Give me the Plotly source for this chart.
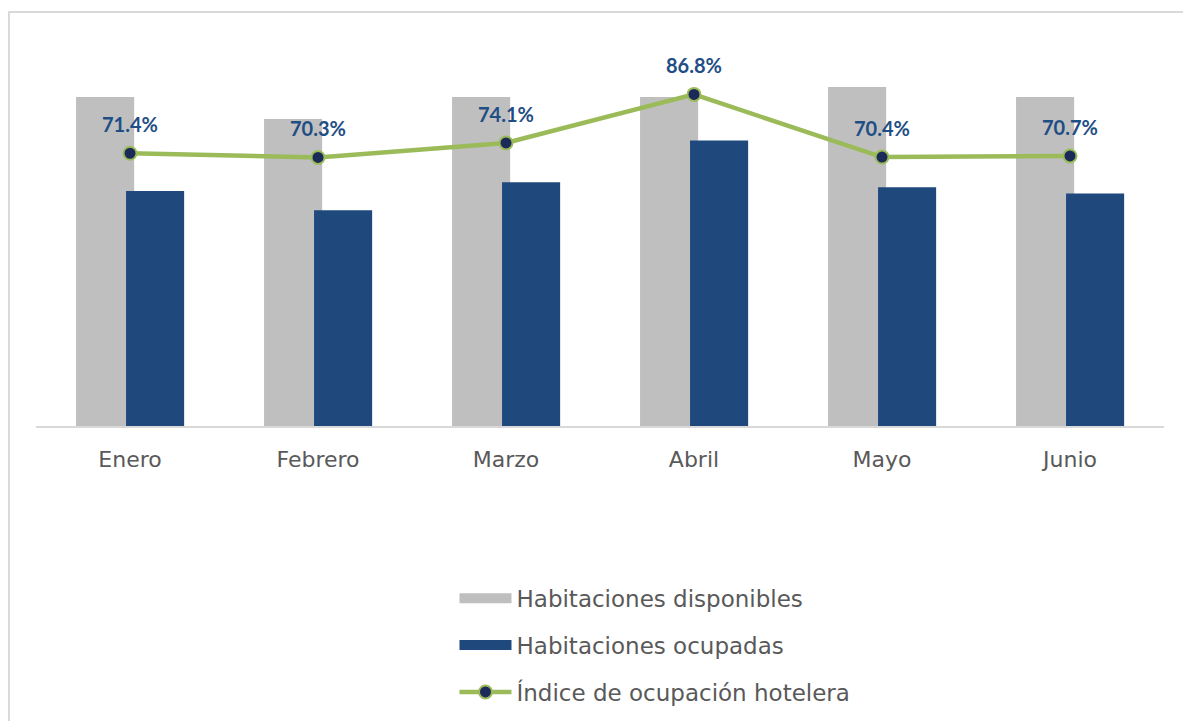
import plotly.graph_objects as go

meses = ["Enero", "Febrero", "Marzo", "Abril", "Mayo", "Junio"]
disponibles = [68900, 64300, 68900, 68900, 71000, 68900]
ocupadas = [49200, 45200, 51060, 59800, 49980, 48710]
indice = [0.714, 0.703, 0.741, 0.868, 0.704, 0.707]
indice_txt = ["71.4%", "70.3%", "74.1%", "86.8%", "70.4%", "70.7%"]

FONT = "DejaVu Sans"
GRIS = "#BFBFBF"
AZUL = "#1F497D"
VERDE = "#9BBB59"

fig = go.Figure()
fig.add_trace(go.Bar(
    x=meses, y=disponibles, name="Habitaciones disponibles",
    marker=dict(color=GRIS, line=dict(width=0)),
    width=0.309, offset=-0.287, showlegend=False,
))
fig.add_trace(go.Bar(
    x=meses, y=ocupadas, name="Habitaciones ocupadas",
    marker=dict(color=AZUL, line=dict(width=0)),
    width=0.309, offset=-0.021, showlegend=False,
))
fig.add_trace(go.Scatter(
    x=meses, y=indice, name="Índice de ocupación hotelera", yaxis="y2",
    mode="lines+markers",
    line=dict(color=VERDE, width=4.5),
    marker=dict(size=13, color="#1C2A5A", line=dict(color=VERDE, width=2)),
    showlegend=False,
))
# legend entries (rectangular symbols like the reference)
fig.add_trace(go.Scatter(x=[None], y=[None], mode="lines", name="Habitaciones disponibles",
                         line=dict(color=GRIS, width=10), legendgroup="a", legendrank=1))
fig.add_trace(go.Scatter(x=[None], y=[None], mode="lines", name="Habitaciones ocupadas",
                         line=dict(color=AZUL, width=10), legendgroup="b", legendrank=2))
fig.add_trace(go.Scatter(x=[None], y=[None], mode="lines+markers", name="Índice de ocupación hotelera",
                         line=dict(color=VERDE, width=4.5),
                         marker=dict(size=13, color="#1C2A5A", line=dict(color=VERDE, width=2)),
                         legendgroup="c", legendrank=3))

for m, v, t in zip(meses, indice, indice_txt):
    fig.add_annotation(x=m, y=v, yref="y2", text="<b>" + t + "</b>",
                       showarrow=False, yshift=29,
                       font=dict(family="Lato", size=20, color="#1F4E85"))

fig.add_shape(type="rect", xref="paper", yref="paper",
              x0=-0.0239, x1=1.06, y0=-0.9, y1=1.0838,
              line=dict(color="#D9D9D9", width=2), fillcolor="rgba(0,0,0,0)", layer="below")

fig.update_layout(
    width=1191, height=721,
    margin=dict(l=28, r=35, t=36, b=303),
    paper_bgcolor="white", plot_bgcolor="white",
    barmode="overlay",
    font=dict(family=FONT, size=22, color="#595959"),
    xaxis=dict(showgrid=False, showline=True, linecolor="#D9D9D9", linewidth=2,
               ticks="outside", ticklen=13, tickcolor="rgba(0,0,0,0)",
               tickfont=dict(size=22, color="#595959")),
    yaxis=dict(range=[0, 80000], visible=False, showgrid=False),
    yaxis2=dict(range=[0, 1], overlaying="y", visible=False, showgrid=False),
    showlegend=True,
    legend=dict(orientation="v", x=0.371, xanchor="left", y=-0.3945, yanchor="top",
                traceorder="grouped", tracegroupgap=14,
                font=dict(family=FONT, size=23, color="#595959"),
                itemwidth=52, bgcolor="rgba(0,0,0,0)"),
)
fig.write_html("out.html")
